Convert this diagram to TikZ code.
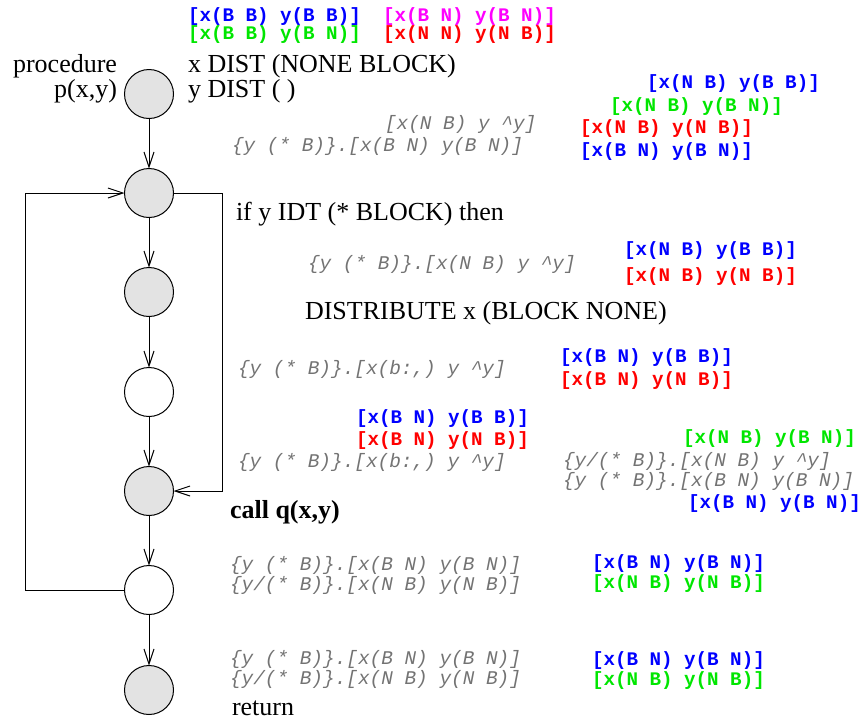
\documentclass[tikz,border=0pt]{standalone}
\usepackage{fontspec}
\setmainfont{Liberation Serif}
\newfontfamily\cmono{Liberation Mono}
\usetikzlibrary{arrows.meta}
\definecolor{cblue}{RGB}{0,0,255}
\definecolor{cgreen}{RGB}{0,230,0}
\definecolor{cred}{RGB}{255,0,0}
\definecolor{cmag}{RGB}{255,0,255}
\definecolor{cgray}{RGB}{115,115,115}
\tikzset{
  every node/.style={inner sep=0pt, outer sep=0pt},
  stmt/.style={font=\fontsize{26}{28}\selectfont, anchor=base west},
  ann/.style={font=\fontsize{19.2}{20}\selectfont\cmono\bfseries, anchor=base west, text height=12pt, text depth=3pt},
  gann/.style={font=\fontsize{19.4}{20}\selectfont\cmono\itshape, text=cgray, anchor=base west, text height=11pt, text depth=3pt},
  blk/.style={circle, draw, line width=1pt, minimum size=49pt},
  gblk/.style={blk, fill=black!11},
  wblk/.style={blk, fill=white},
  arr/.style={line width=1pt, -{Straight Barb[length=15pt,width=10pt]}},
}
\begin{document}
\begin{tikzpicture}[x=1pt,y=-1pt]
\useasboundingbox (0,0) rectangle (862,721);
% circles
\node[gblk] (c1) at (149,94) {};
\node[gblk] (c2) at (149,193) {};
\node[gblk] (c3) at (149,292) {};
\node[wblk] (c4) at (149,392) {};
\node[gblk] (c5) at (149,491) {};
\node[wblk] (c6) at (149,590) {};
\node[gblk] (c7) at (149,690) {};
\coordinate (lft) at (25,0);
\coordinate (rgt) at (222,0);
% connectors
\draw[arr] (c1) -- (c2);
\draw[arr] (c2) -- (c3);
\draw[arr] (c3) -- (c4);
\draw[arr] (c4) -- (c5);
\draw[arr] (c5) -- (c6);
\draw[arr] (c6) -- (c7);
\draw[arr] (c6.west) -- (c6.west -| lft) |- (c2.west);
\draw[arr] (c2.east) -- (c2.east -| rgt) |- (c5.east);
% statements
\node[stmt, anchor=base east] (t1) at (117,72) {procedure};
\node[stmt, anchor=base east] (t2) at (117,97) {p(x,y)};
\node[stmt] (t3) at (188,72) {x DIST (NONE BLOCK)};
\node[stmt] (t4) at (188,97) {y DIST ( )};
\node[stmt] (t5) at (236,220) {if y IDT (* BLOCK) then};
\node[stmt] (t6) at (305,319) {DISTRIBUTE x (BLOCK NONE)};
\node[stmt, font=\fontsize{26}{28}\selectfont\bfseries] (t7) at (230,518) {call q(x,y)};
\node[stmt] (t8) at (232,715) {return};
% top annotations
\node[ann, text=cblue] (a1) at (188,21) {[x(B B) y(B B)]};
\node[ann, text=cmag] (a2) at (383,21) {[x(B N) y(B N)]};
\node[ann, text=cgreen] (a3) at (188,39) {[x(B B) y(B N)]};
\node[ann, text=cred] (a4) at (383,39) {[x(N N) y(N B)]};
% right column top
\node[ann, text=cblue] (a5) at (647,88) {[x(N B) y(B B)]};
\node[ann, text=cgreen] (a6) at (610,111) {[x(N B) y(B N)]};
\node[ann, text=cred] (a7) at (580,133) {[x(N B) y(N B)]};
\node[ann, text=cblue] (a8) at (580,156) {[x(B N) y(B N)]};
\node[gann] (g1) at (385,129) {[x(N B) y \^{}y]};
\node[gann] (g2) at (232,151) {\{y (* B)\}.[x(B N) y(B N)]};
% after if
\node[gann] (g3) at (308,269) {\{y (* B)\}.[x(N B) y \^{}y]};
\node[ann, text=cblue] (a9) at (624,255) {[x(N B) y(B B)]};
\node[ann, text=cred] (a10) at (624,281) {[x(N B) y(N B)]};
% after distribute
\node[gann] (g4) at (238,374) {\{y (* B)\}.[x(b:,) y \^{}y]};
\node[ann, text=cblue] (a11) at (560,362) {[x(B N) y(B B)]};
\node[ann, text=cred] (a12) at (560,385) {[x(B N) y(N B)]};
% before call
\node[ann, text=cblue] (a13) at (356,423) {[x(B N) y(B B)]};
\node[ann, text=cred] (a14) at (356,445) {[x(B N) y(N B)]};
\node[gann] (g5) at (238,467) {\{y (* B)\}.[x(b:,) y \^{}y]};
\node[ann, text=cgreen] (a15) at (683,443) {[x(N B) y(B N)]};
\node[gann] (g6) at (563,466) {\{y/(* B)\}.[x(N B) y \^{}y]};
\node[gann] (g7) at (563,486) {\{y (* B)\}.[x(B N) y(B N)]};
\node[ann, text=cblue] (a16) at (688,508) {[x(B N) y(B N)]};
% after call
\node[gann] (g8) at (230,570) {\{y (* B)\}.[x(B N) y(B N)]};
\node[gann] (g9) at (230,590) {\{y/(* B)\}.[x(N B) y(N B)]};
\node[ann, text=cblue] (a17) at (592,568) {[x(B N) y(B N)]};
\node[ann, text=cgreen] (a18) at (592,588) {[x(N B) y(N B)]};
% before return
\node[gann] (g10) at (230,664) {\{y (* B)\}.[x(B N) y(B N)]};
\node[gann] (g11) at (230,684) {\{y/(* B)\}.[x(N B) y(N B)]};
\node[ann, text=cblue] (a19) at (592,665) {[x(B N) y(B N)]};
\node[ann, text=cgreen] (a20) at (592,685) {[x(N B) y(N B)]};
\end{tikzpicture}
\end{document}
